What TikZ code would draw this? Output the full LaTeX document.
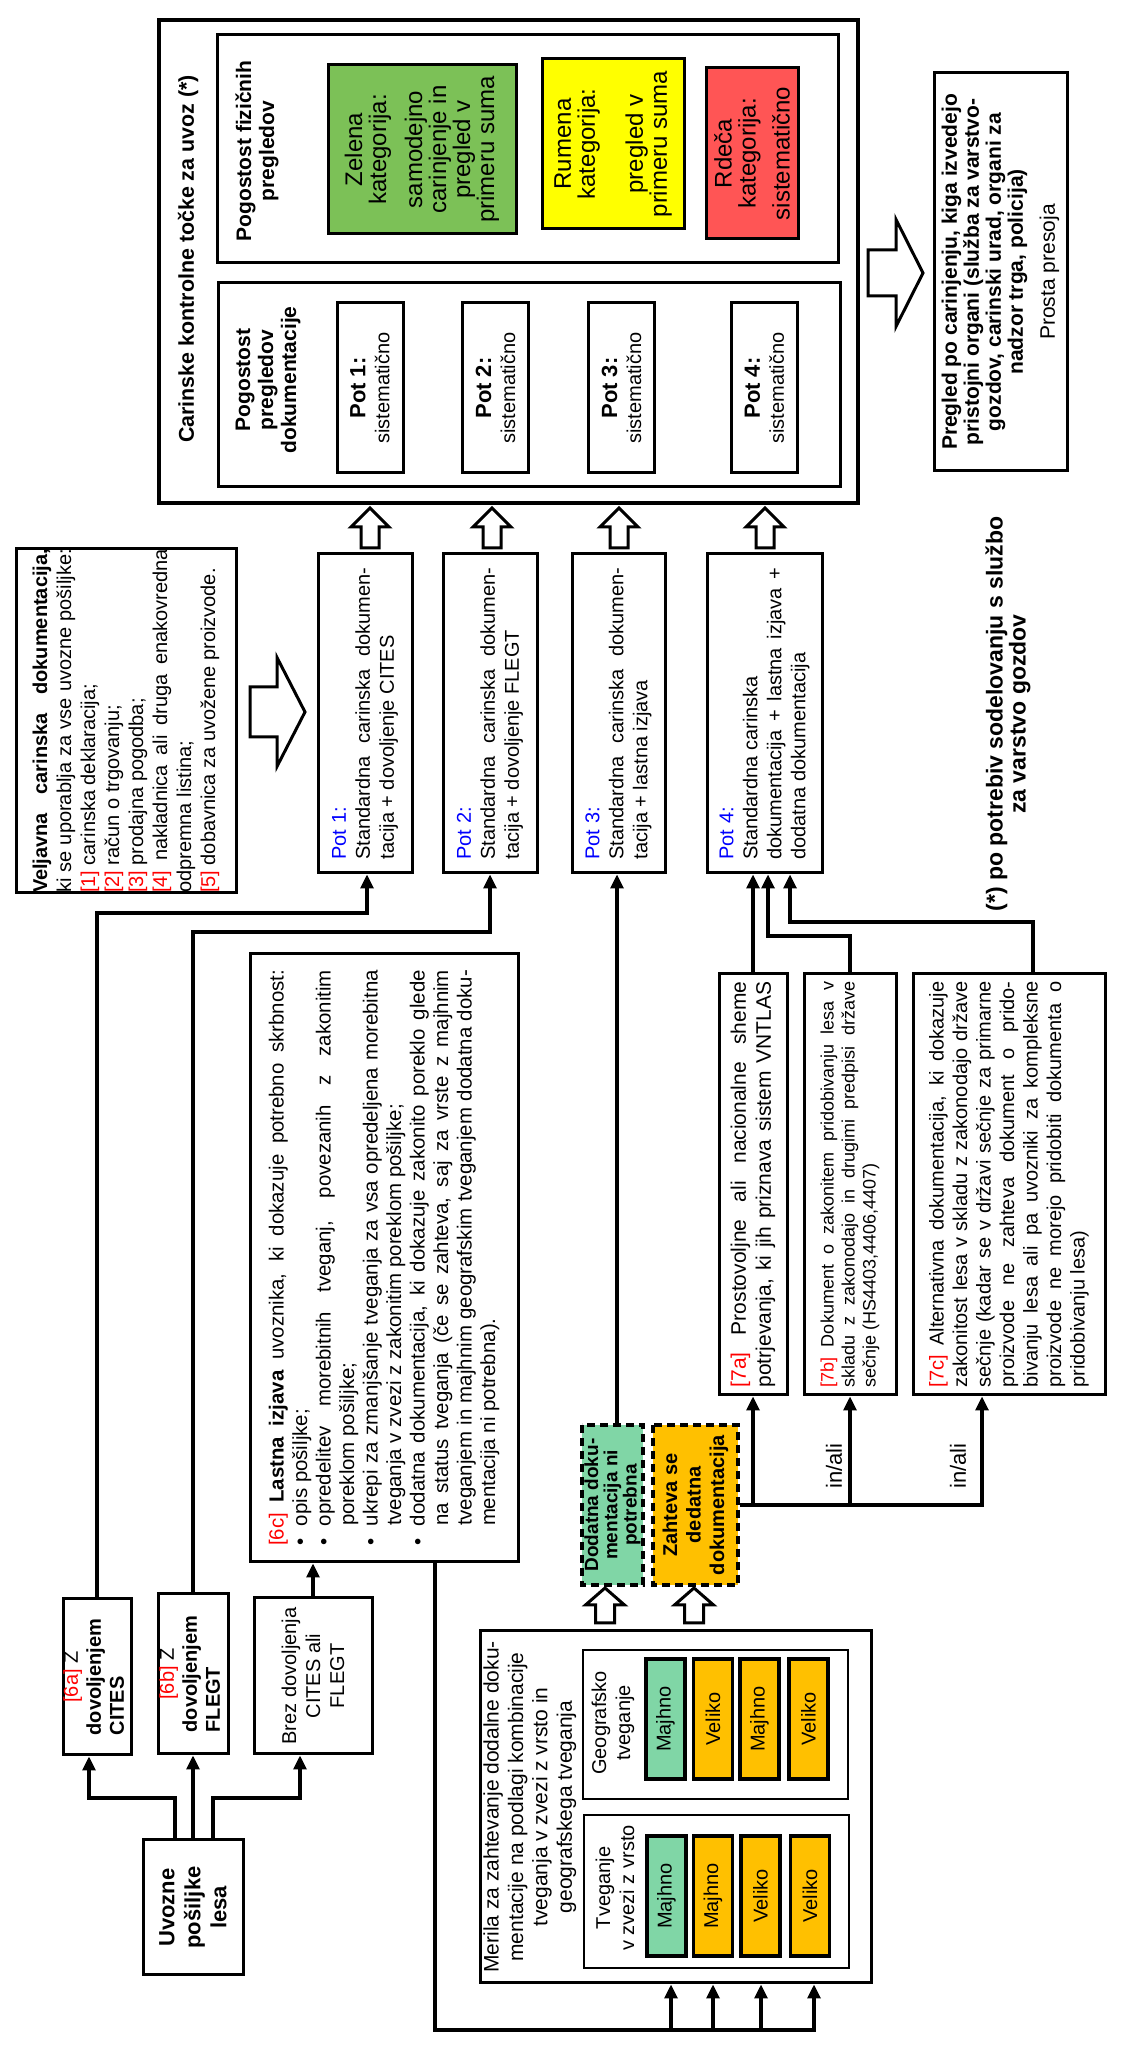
\documentclass[tikz,border=0pt]{standalone}
\usepackage{fontspec}
\setmainfont{Liberation Sans}
\usetikzlibrary{arrows.meta}
\definecolor{zgreen}{RGB}{124,193,87}
\definecolor{lgreen}{RGB}{128,214,166}
\definecolor{orng}{RGB}{255,192,0}
\definecolor{ylw}{RGB}{255,255,0}
\definecolor{rdred}{RGB}{255,85,85}
\newcommand{\myfs}[2]{\fontsize{#1}{#2}\selectfont}
\newcommand{\rdtxt}[1]{\textcolor{red}{#1}}
\newcommand{\bltxt}[1]{\textcolor{blue}{#1}}
\newcommand{\blockarr}[7]{%
  \begin{scope}[shift={(#1,#2)},rotate=#3]
    \draw[blockarrow] (0,-#7/2) -- (#4-#5,-#7/2) -- (#4-#5,-#6/2) -- (#4,0)
      -- (#4-#5,#6/2) -- (#4-#5,#7/2) -- (0,#7/2) -- cycle;
  \end{scope}}
\hyphenpenalty=10000
\exhyphenpenalty=10000
\tolerance=9999
\hbadness=10000
\vbadness=10000
\hfuzz=30pt
\begin{document}
\begin{tikzpicture}[x=0.5pt,y=0.5pt,
  plainbox/.style={draw, line width=1.5pt, inner sep=0pt},
  blockarrow/.style={draw, line width=1.5pt, fill=white, line join=miter},
  conn/.style={line width=1.6pt, line join=miter},
  arr/.style={conn, -{Triangle[length=7pt,width=6.5pt]}},
  cell/.style={draw, line width=1.75pt, minimum width=60pt, minimum height=19.5pt, inner sep=0pt, font=\myfs{10}{12}},
  dbox/.style={draw, dash pattern=on 4pt off 2.5pt, line width=1.6pt, inner sep=0pt, align=center},
  mbox/.style={plainbox, minimum width=159.5pt},
  sbox/.style={plainbox, minimum width=210.5pt}]
\fill[white] (0,0) rectangle (1140,2047);
\useasboundingbox (0,0) rectangle (1140,2047);
\begin{scope}[rotate=90, transform shape]

% ---------- customs control block ----------
\node[plainbox, line width=2pt, minimum width=241.5pt, minimum height=349.5pt] (outer) at (1785.5,-508.5) {};
\node[font=\myfs{10.7}{13}\bfseries] (title) at (1788,-188) {Carinske kontrolne točke za uvoz (*)};
\node[plainbox, minimum width=114pt, minimum height=310.5pt] (boxA) at (1898,-527.5) {};
\node[plainbox, minimum width=102pt, minimum height=311pt] (boxB) at (1662,-529) {};
\node[align=center, font=\myfs{10.5}{11.5}\bfseries] (fiz) at (1896,-257) {Pogostost fizičnih\\pregledov};
\node[plainbox, align=center, fill=zgreen, minimum width=84.5pt, minimum height=94pt, font=\myfs{12}{12}] (zel) at (1897.5,-422)
  {Zelena\\kategorija:\\[6pt]samodejno\\carinjenje in\\pregled v\\primeru suma};
\node[plainbox, align=center, fill=ylw, minimum width=85pt, minimum height=71pt, font=\myfs{12}{12}] (rum) at (1903,-613)
  {Rumena\\kategorija:\\[12pt]pregled v\\primeru suma};
\node[plainbox, align=center, fill=rdred, minimum width=85.5pt, minimum height=46pt, font=\myfs{12}{12}] (rde) at (1893.5,-752)
  {Rdeča\\kategorija:\\[5pt]sistematično};
\node[align=center, font=\myfs{10.5}{11.5}\bfseries] (dok) at (1667,-268) {Pogostost\\pregledov\\dokumentacije};
\node[plainbox, align=center, minimum width=85pt, minimum height=33pt, font=\myfs{10}{12}] (p1) at (1659,-370) {{\myfs{11}{12}\bfseries Pot 1:}\\sistematično};
\node[plainbox, align=center, minimum width=85pt, minimum height=33pt, font=\myfs{10}{12}] (p2) at (1659,-495.5) {{\myfs{11}{12}\bfseries Pot 2:}\\sistematično};
\node[plainbox, align=center, minimum width=85pt, minimum height=33pt, font=\myfs{10}{12}] (p3) at (1659,-621.5) {{\myfs{11}{12}\bfseries Pot 3:}\\sistematično};
\node[plainbox, align=center, minimum width=85pt, minimum height=33pt, font=\myfs{10}{12}] (p4) at (1659,-764.5) {{\myfs{11}{12}\bfseries Pot 4:}\\sistematično};

% ---------- after-clearance check ----------
\node[plainbox, align=center, minimum width=199pt, minimum height=66.5pt, font=\myfs{10.5}{11}] (preg) at (1775,-1000.5)
  {\textbf{Pregled po carinjenju, kiga izvedejo}\\\textbf{pristojni organi (služba za varstvo-}\\\textbf{gozdov, carinski urad, organi za}\\\textbf{nadzor trga, policija)}\\[5pt]Prosta presoja};
\node[align=center, font=\myfs{11.5}{11.5}\bfseries] (note) at (1333,-1008) {(*) po potrebiv sodelovanju s službo\\za varstvo gozdov};

% ---------- documentation routes ----------
\node[plainbox] (vel) at (1326,-126) {\begin{minipage}[c][110pt][c]{172pt}\myfs{10}{12}%
\textbf{Veljavna carinska dokumentacija,}\linebreak
ki se uporablja za vse uvozne pošiljke:\linebreak
\rdtxt{[1]} carinska deklaracija;\newline
\rdtxt{[2]} račun o trgovanju;\newline
\rdtxt{[3]} prodajna pogodba;\newline
\rdtxt{[4]} nakladnica ali druga enakovredna\linebreak
odpremna listina;\newline
\rdtxt{[5]} dobavnica za uvožene proizvode.\end{minipage}};

\node[mbox, minimum height=47pt] (m1) at (1333.5,-365) {\begin{minipage}{146pt}\myfs{10}{12}%
\bltxt{Pot 1:}\\Standardna carinska dokumen-\linebreak tacija + dovoljenje CITES\end{minipage}};
\node[mbox, minimum height=47pt] (m2) at (1333.5,-490) {\begin{minipage}{146pt}\myfs{10}{12}%
\bltxt{Pot 2:}\\Standardna carinska dokumen-\linebreak tacija + dovoljenje FLEGT\end{minipage}};
\node[mbox, minimum height=46.5pt] (m3) at (1333.5,-618.5) {\begin{minipage}{146pt}\myfs{10}{12}%
\bltxt{Pot 3:}\\Standardna carinska dokumen-\linebreak tacija + lastna izjava\end{minipage}};
\node[mbox, minimum height=57.5pt] (m4) at (1333.5,-764.5) {\begin{minipage}{146pt}\myfs{10}{12}%
\bltxt{Pot 4:}\\Standardna carinska\\dokumentacija + lastna izjava +\linebreak dodatna dokumentacija\end{minipage}};

% ---------- import consignment and permits ----------
\node[plainbox, align=center, minimum width=67.5pt, minimum height=50pt, font=\myfs{11}{13}\bfseries] (uv) at (139.5,-193) {Uvozne\\pošiljke\\lesa};
\node[plainbox, align=center, minimum width=78pt, minimum height=34pt, font=\myfs{10}{11.5}] (n6a) at (370,-97)
  {\rdtxt{[6a]} Z\\\begin{tabular}[t]{@{}l@{}}\textbf{dovoljenjem}\\\textbf{CITES}\end{tabular}};
\node[plainbox, align=center, minimum width=80pt, minimum height=35pt, font=\myfs{10}{11.5}] (n6b) at (373,-193)
  {\rdtxt{[6b]} Z\\\begin{tabular}[t]{@{}l@{}}\textbf{dovoljenjem}\\\textbf{FLEGT}\end{tabular}};
\node[plainbox, align=center, minimum width=78pt, minimum height=59pt, font=\myfs{10}{12}] (brez) at (371,-313) {Brez dovoljenja\\CITES ali\\FLEGT};

\node[plainbox, minimum width=304pt, minimum height=134pt] (c6) at (789,-384) {\begin{minipage}{288pt}\myfs{10.2}{11.75}\parindent=0pt
{\parfillskip=0pt \rdtxt{[6c]} \textbf{Lastna izjava} uvoznika, ki dokazuje potrebno skrbnost:\par}
\hangindent=10pt\hangafter=1 \makebox[10pt][l]{•}opis pošiljke;\par
\hangindent=10pt\hangafter=1 \makebox[10pt][l]{•}opredelitev morebitnih tveganj, povezanih z zakonitim\linebreak poreklom pošiljke;\par
\hangindent=10pt\hangafter=1 \makebox[10pt][l]{•}ukrepi za zmanjšanje tveganja za vsa opredeljena morebitna\linebreak tveganja v zvezi z zakonitim poreklom pošiljke;\par
\hangindent=10pt\hangafter=1 \makebox[10pt][l]{•}dodatna dokumentacija, ki dokazuje zakonito poreklo glede\linebreak na status tveganja (če se zahteva, saj za vrste z majhnim\linebreak tveganjem in majhnim geografskim tveganjem dodatna doku-\linebreak mentacija ni potrebna).\par
\end{minipage}};

% ---------- risk criteria ----------
\node[plainbox, minimum width=176pt, minimum height=195.5pt] (mer) at (240,-675.5) {};
\node[anchor=north, inner sep=0pt, align=center, font=\myfs{10.5}{12.2}] (mertxt) at (240,-483)
  {Merila za zahtevanje dodalne doku-\\mentacije na podlagi kombinacije\\tveganja v zvezi z vrsto in\\geografskega tveganja};
\node[plainbox, line width=1pt, minimum width=74.5pt, minimum height=132.5pt] (geo) at (322.5,-715.5) {};
\node[align=center, font=\myfs{10}{12}] (geolbl) at (324,-613) {Geografsko\\tveganje};
\node[cell, fill=lgreen] (g1) at (328,-665.5) {Majhno};
\node[cell, fill=orng] (g2) at (328,-713) {Veliko};
\node[cell, fill=orng] (g3) at (328,-759.5) {Majhno};
\node[cell, fill=orng] (g4) at (328,-808.5) {Veliko};
\node[plainbox, line width=1pt, minimum width=76.5pt, minimum height=132.5pt] (vrs) at (155.5,-716.5) {};
\node[align=center, font=\myfs{10}{12}] (vrslbl) at (159,-615) {Tveganje\\v zvezi z vrsto};
\node[cell, fill=lgreen] (v1) at (151,-666.5) {Majhno};
\node[cell, fill=orng] (v2) at (151,-713) {Majhno};
\node[cell, fill=orng] (v3) at (151,-760.5) {Veliko};
\node[cell, fill=orng] (v4) at (151,-810) {Veliko};

\node[dbox, fill=lgreen, minimum width=80pt, minimum height=30.5pt, font=\myfs{9.5}{9.6}\bfseries] (dod) at (542,-612.5) {Dodatna doku-\\mentacija ni\\potrebna};
\node[dbox, fill=orng, minimum width=80pt, minimum height=42.5pt, font=\myfs{10}{11.75}\bfseries] (zah) at (542,-695.5) {Zahteva se\\dedatna\\dokumentacija};

% ---------- additional documentation ----------
\node[sbox, minimum height=34pt] (n7a) at (862.5,-753) {\begin{minipage}{203pt}\myfs{10.5}{12.5}\parfillskip=0pt
\rdtxt{[7a]} Prostovoljne ali nacionalne sheme\linebreak potrjevanja, ki jih priznava sistem VNTLAS\end{minipage}};
\node[sbox, minimum height=46pt] (n7b) at (862.5,-850) {\begin{minipage}{203pt}\myfs{9}{10.5}%
\rdtxt{[7b]} Dokument o zakonitem pridobivanju lesa v\linebreak skladu z zakonodajo in drugimi predpisi države\linebreak sečnje (HS4403,4406,4407)\end{minipage}};
\node[sbox, minimum height=96pt] (n7c) at (862.5,-1009) {\begin{minipage}{203pt}\myfs{10}{11.75}%
\rdtxt{[7c]} Alternativna dokumentacija, ki dokazuje\linebreak
zakonitost lesa v skladu z zakonodajo države\linebreak
sečnje (kadar se v državi sečnje za primarne\linebreak
proizvode ne zahteva dokument o prido-\linebreak
bivanju lesa ali pa uvozniki za kompleksne\linebreak
proizvode ne morejo pridobiti dokumenta o\linebreak
pridobivanju lesa)\end{minipage}};
\node[font=\myfs{11}{12}] (inali1) at (581,-834) {in/ali};
\node[font=\myfs{11}{12}] (inali2) at (581,-958) {in/ali};

% ---------- block arrows ----------
\blockarr{1499}{-370}{0}{40}{19}{38}{18}
\blockarr{1499}{-492}{0}{40}{19}{38}{18}
\blockarr{1499}{-619}{0}{40}{19}{38}{18}
\blockarr{1499}{-765}{0}{40}{19}{38}{18}
\blockarr{1335}{-250}{-90}{55}{28}{109}{50}
\blockarr{1774}{-868}{-90}{55}{27}{107}{46}
\blockarr{424}{-605}{0}{35}{17}{39}{19}
\blockarr{424}{-694}{0}{35}{17}{39}{19}

% ---------- connectors ----------
\draw[arr] ([yshift=9pt]uv.east) -- (249,-175) -- (249,-89) -- ([yshift=4pt]n6a.west);
\draw[arr] (uv.east) -- (n6b.west);
\draw[arr] ([yshift=-10pt]uv.east) -- (249,-213) -- (249,-300) -- ([yshift=6.5pt]brez.west);
\draw[arr] (n6a.east) -- (1134,-97) -- (1134,-367) -- ([yshift=-1pt]m1.west);
\draw[arr] (n6b.east) -- (1115,-193) -- (1115,-490) -- (m2.west);
\draw[arr] (brez.east) -- ([yshift=35.5pt]c6.west);
\coordinate (t1) at (17,-671);
\coordinate (t2) at (17,-713);
\coordinate (t3) at (17,-761);
\coordinate (t4) at (17,-814);
\draw[arr] ([yshift=-25.5pt]c6.west) -- (17,-435) -- (t4) -- ([yshift=-69.25pt]mer.west);
\draw[arr] (t1) -- ([yshift=2.25pt]mer.west);
\draw[arr] (t2) -- ([yshift=-18.75pt]mer.west);
\draw[arr] (t3) -- ([yshift=-42.75pt]mer.west);
\draw[arr] ([yshift=-2.25pt]dod.east) -- ([yshift=0.75pt]m3.west);
\coordinate (za) at (542,-753);
\coordinate (zb) at (542,-850);
\draw[arr] (zah.south) -- (542,-982) -- ([yshift=13.5pt]n7c.west);
\draw[arr] (za) -- (n7a.west);
\draw[arr] (zb) -- (n7b.west);
\draw[arr] (n7a.east) -- ([yshift=5.75pt]m4.west);
\draw[arr] (n7b.east) -- (1111,-850) -- (1111,-768) -- ([yshift=-1.75pt]m4.west);
\draw[arr] ([yshift=-12pt]n7c.east) -- (1125,-1033) -- (1125,-790) -- ([yshift=-12.75pt]m4.west);

\end{scope}
\end{tikzpicture}
\end{document}
